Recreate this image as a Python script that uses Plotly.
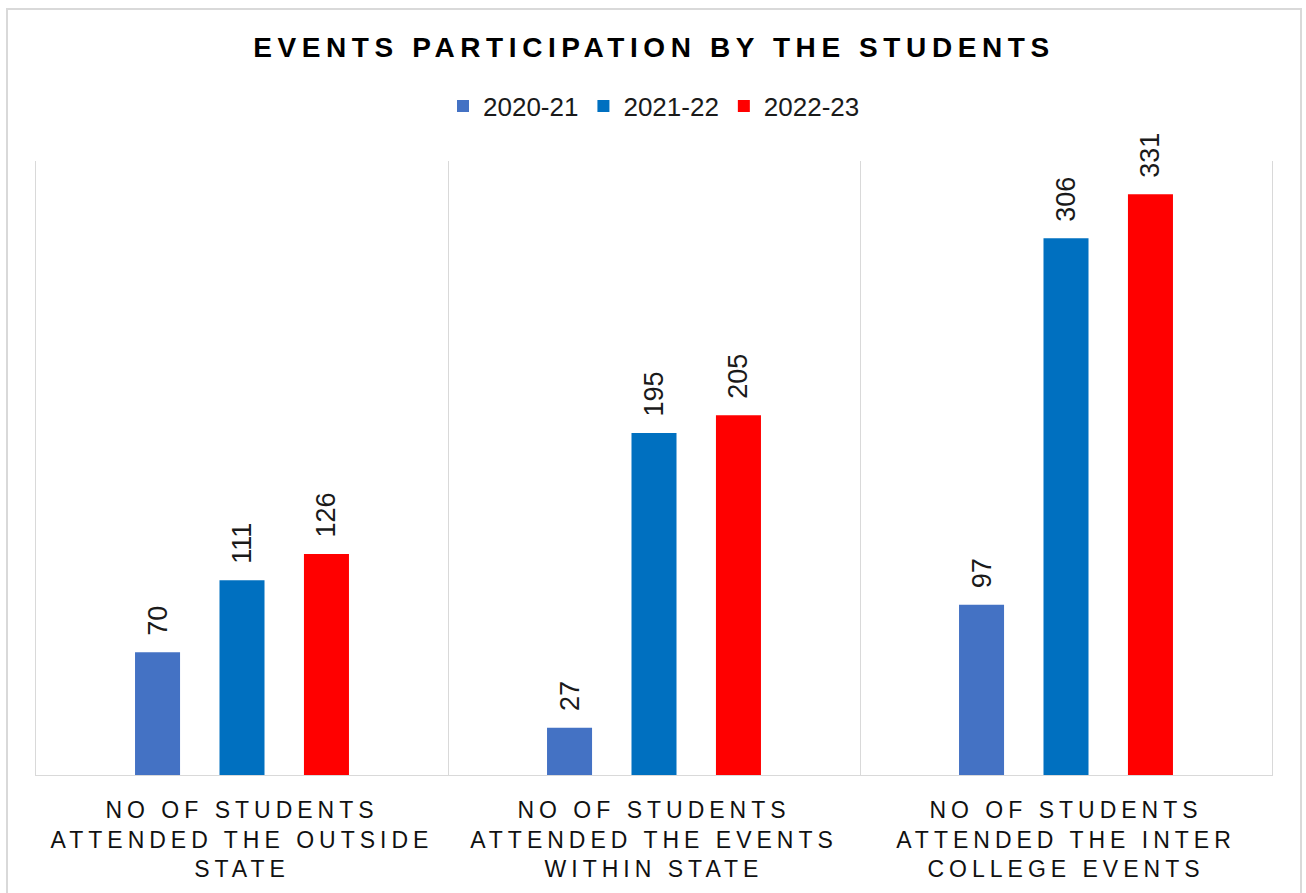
import plotly.graph_objects as go

categories = [
    "NO OF STUDENTS<br>ATTENDED THE OUTSIDE<br>STATE",
    "NO OF STUDENTS<br>ATTENDED THE EVENTS<br>WITHIN STATE",
    "NO OF STUDENTS<br>ATTENDED THE INTER<br>COLLEGE EVENTS",
]
series_names = ["2020-21", "2021-22", "2022-23"]
values_2020_21 = [70, 27, 97]
values_2021_22 = [111, 195, 306]
values_2022_23 = [126, 205, 331]
series_values = [values_2020_21, values_2021_22, values_2022_23]
colors = ["#4472C4", "#0070C0", "#FF0000"]

FONT = "Liberation Sans, Arial, sans-serif"
W, H = 1306, 893
L, R, T, B = 36, 34, 161, 118


def spaced(text, ls):
    return "<br>".join(
        f'<span style="letter-spacing:{ls}px">{line}</span>' for line in text.split("<br>")
    )


tick_text = [spaced(c, 5) for c in categories]

fig = go.Figure()
for name, vals, col in zip(series_names, series_values, colors):
    fig.add_trace(go.Bar(
        name=name,
        x=categories,
        y=vals,
        marker=dict(color=col, line=dict(width=0)),
        texttemplate="\u2002%{y}",
        textposition="outside",
        textangle=-90,
        constraintext="none",
        textfont=dict(family=FONT, size=27, color="#1a1a1a"),
        cliponaxis=False,
    ))


def px_x(p):
    return (p - L) / (W - L - R)


def px_y(p):
    return 1 - (p - T) / (H - T - B)


fig.update_layout(
    width=W,
    height=H,
    margin=dict(l=L, r=R, t=T, b=B, pad=0),
    paper_bgcolor="white",
    plot_bgcolor="white",
    barmode="group",
    bargap=0.385,
    bargroupgap=0.467,
    uniformtext=dict(mode=False),
    title=dict(
        text=spaced("EVENTS PARTICIPATION BY THE STUDENTS", 5.6),
        x=0.5,
        xanchor="center",
        xref="paper",
        y=1 - 47.5 / H,
        yref="container",
        yanchor="middle",
        font=dict(family=FONT, size=28, color="#000000", weight="bold"),
    ),
    legend=dict(
        orientation="h",
        x=0.5,
        xanchor="center",
        xref="paper",
        y=1 - 106 / H,
        yref="container",
        yanchor="middle",
        font=dict(family=FONT, size=26, color="#1a1a1a"),
        itemsizing="constant",
        traceorder="normal",
    ),
    xaxis=dict(
        type="category",
        tickmode="array",
        tickvals=categories,
        ticktext=tick_text,
        tickson="boundaries",
        showgrid=True,
        gridcolor="#D9D9D9",
        gridwidth=1,
        showline=True,
        linecolor="#D9D9D9",
        linewidth=1,
        ticks="",
        ticklabelstandoff=14,
        tickfont=dict(family=FONT, size=23, color="#111111"),
        fixedrange=True,
    ),
    yaxis=dict(
        range=[0, 350],
        showgrid=False,
        showticklabels=False,
        zeroline=False,
        showline=True,
        mirror=True,
        linecolor="#D9D9D9",
        linewidth=1,
        ticks="",
    ),
    shapes=[
        dict(
            type="rect",
            xref="paper",
            yref="paper",
            x0=px_x(7),
            x1=px_x(1301),
            y0=px_y(H + 5),
            y1=px_y(9),
            line=dict(color="#D9D9D9", width=2),
            fillcolor="rgba(0,0,0,0)",
            layer="below",
        )
    ],
)

fig.write_html(
    "out.html",
    config={"displayModeBar": False},
    post_script="document.body.style.margin='0px';document.body.style.overflow='hidden';",
)
